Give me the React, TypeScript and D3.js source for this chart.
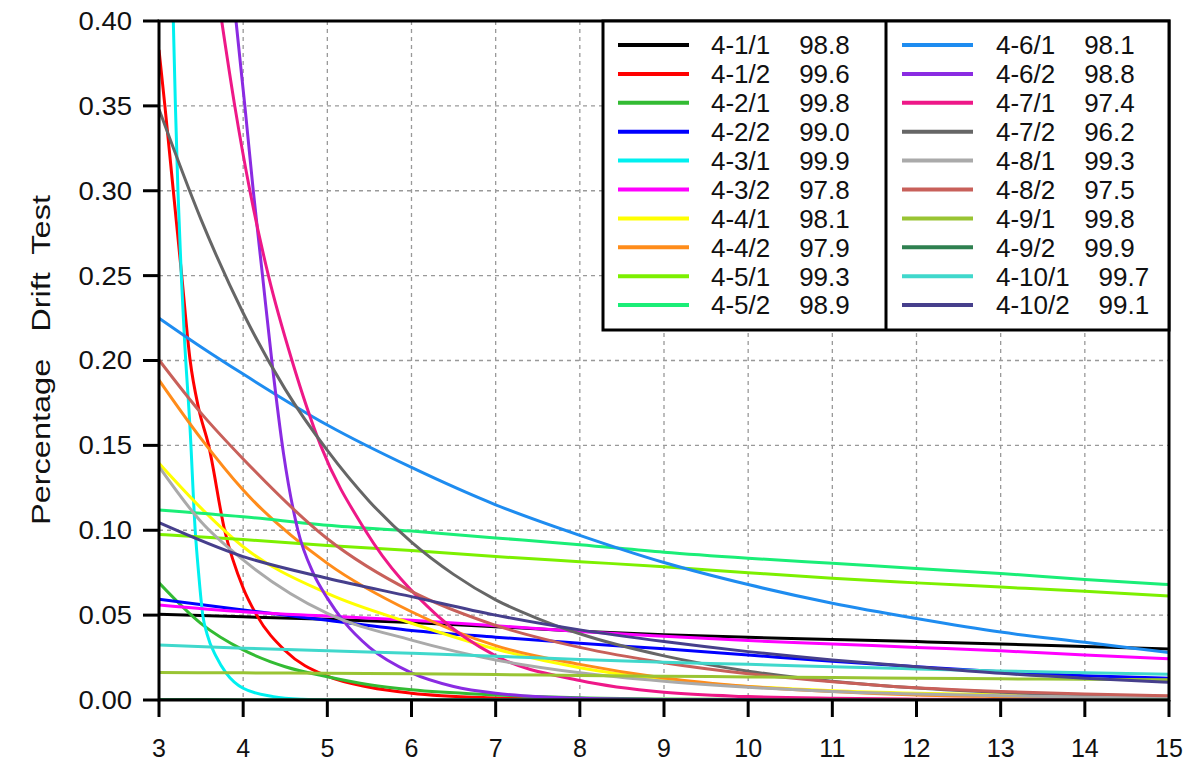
import React from 'react';
import * as d3 from 'd3';

const X_TICKS = [3, 4, 5, 6, 7, 8, 9, 10, 11, 12, 13, 14, 15];
const Y_TICKS = [0, 0.05, 0.1, 0.15, 0.2, 0.25, 0.3, 0.35, 0.4];

const LABELS = ['4-1/1', '4-1/2', '4-2/1', '4-2/2', '4-3/1', '4-3/2', '4-4/1', '4-4/2', '4-5/1', '4-5/2',
  '4-6/1', '4-6/2', '4-7/1', '4-7/2', '4-8/1', '4-8/2', '4-9/1', '4-9/2', '4-10/1', '4-10/2'];
const R2 = ['98.8', '99.6', '99.8', '99.0', '99.9', '97.8', '98.1', '97.9', '99.3', '98.9',
  '98.1', '98.8', '97.4', '96.2', '99.3', '97.5', '99.8', '99.9', '99.7', '99.1'];
const COLORS = ['#000000', '#ff0000', '#33bb33', '#0000ff', '#00f0f0', '#ff00ff', '#ffff00', '#ff8c1a', '#7cf000', '#1aee77',
  '#1e8cf0', '#8a2be2', '#ee1888', '#666666', '#aaaaaa', '#c8605a', '#99c433', '#2e8050', '#40d8cc', '#463f8c'];

const X_MAIN = [3, 4, 5, 6, 7, 8, 9, 10, 11, 12, 13, 14, 15];

const Y_4_1_1 = [0.0505, 0.049, 0.0475, 0.0457, 0.0432, 0.0405, 0.0385, 0.0369, 0.0357, 0.0344, 0.033, 0.0315, 0.030];

const X_4_1_2 = [3, 3.07, 3.17, 3.27, 3.37, 3.47, 3.59, 3.78, 4, 4.16, 4.5, 5, 5.5, 6, 7, 8, 9, 15];
const Y_4_1_2 = [0.383, 0.35, 0.30, 0.25, 0.20, 0.172, 0.15, 0.10, 0.066, 0.05, 0.029, 0.014, 0.0075, 0.004, 0.0012, 0.0003, 0.0001, 0];

const X_4_2_1 = [3, 3.5, 4, 4.5, 5, 5.5, 6, 7, 8, 9, 10, 12, 15];
const Y_4_2_1 = [0.069, 0.045, 0.0295, 0.0196, 0.0137, 0.009, 0.006, 0.003, 0.0013, 0.0006, 0.0003, 0.0001, 0];

const Y_4_2_2 = [0.0593, 0.053, 0.047, 0.041, 0.037, 0.0334, 0.0302, 0.0265, 0.0228, 0.0196, 0.0167, 0.0143, 0.0128];

const X_4_3_1 = [3, 3.1, 3.17, 3.195, 3.225, 3.265, 3.3, 3.37, 3.43, 3.47, 3.52, 3.57, 3.68, 3.8, 4, 4.36, 4.7, 5, 15];
const Y_4_3_1 = [0.62, 0.5, 0.40, 0.35, 0.30, 0.25, 0.215, 0.159, 0.10, 0.075, 0.05, 0.039, 0.0255, 0.0157, 0.0069, 0.002, 0.0004, 0, 0];

const Y_4_3_2 = [0.056, 0.052, 0.0495, 0.047, 0.0438, 0.0403, 0.0375, 0.035, 0.033, 0.031, 0.029, 0.0265, 0.0243];

const X_4_4 = [3, 3.5, 4, 5, 6, 7, 8, 9, 10, 11, 12, 13, 14, 15];
const Y_4_4_1 = [0.1394, 0.113, 0.0903, 0.0628, 0.0452, 0.030, 0.019, 0.012, 0.008, 0.0055, 0.004, 0.003, 0.0022, 0.0016];
const Y_4_4_2 = [0.1885, 0.154, 0.1237, 0.0805, 0.052, 0.032, 0.021, 0.013, 0.008, 0.005, 0.003, 0.002, 0.0013, 0.0009];

const Y_4_5_1 = [0.0975, 0.0945, 0.091, 0.088, 0.0845, 0.0815, 0.0785, 0.075, 0.0717, 0.069, 0.0665, 0.064, 0.0613];
const Y_4_5_2 = [0.112, 0.108, 0.103, 0.0995, 0.0955, 0.0915, 0.087, 0.0835, 0.0805, 0.0775, 0.0745, 0.071, 0.068];

const X_4_6_1 = [3, 3.5, 4, 5, 6, 7, 8, 9, 10, 11, 12, 13, 14, 15];
const Y_4_6_1 = [0.225, 0.208, 0.192, 0.162, 0.137, 0.115, 0.097, 0.081, 0.068, 0.057, 0.048, 0.040, 0.034, 0.028];

const X_4_6_2 = [3.7, 3.915, 4.02, 4.12, 4.23, 4.34, 4.48, 4.65, 4.83, 5, 5.2, 5.5, 6, 6.5, 7, 8, 9, 15];
const Y_4_6_2 = [0.52, 0.40, 0.35, 0.30, 0.25, 0.20, 0.145, 0.10, 0.075, 0.06, 0.046, 0.031, 0.016, 0.008, 0.004, 0.001, 0.0003, 0];

const X_4_7_1 = [3.6, 3.745, 3.9, 4.08, 4.3, 4.58, 4.92, 5.45, 6.3, 7, 8, 9, 10, 11, 12, 15];
const Y_4_7_1 = [0.45, 0.40, 0.35, 0.30, 0.25, 0.20, 0.15, 0.10, 0.05, 0.026, 0.0115, 0.0045, 0.002, 0.001, 0.0005, 0.0001];

const X_4_7_2 = [3, 3.5, 4, 4.5, 5, 5.5, 6, 6.5, 7, 7.5, 8, 9, 10, 11, 12, 13, 14, 15];
const Y_4_7_2 = [0.348, 0.283, 0.228, 0.183, 0.147, 0.117, 0.093, 0.074, 0.059, 0.048, 0.039, 0.026, 0.017, 0.011, 0.007, 0.0045, 0.003, 0.002];

const X_4_8 = [3, 3.5, 4, 5, 6, 7, 8, 9, 10, 11, 12, 13, 14, 15];
const Y_4_8_1 = [0.1375, 0.105, 0.0825, 0.051, 0.0353, 0.0236, 0.016, 0.011, 0.0075, 0.005, 0.0035, 0.0025, 0.0018, 0.0013];
const Y_4_8_2 = [0.2003, 0.169, 0.142, 0.095, 0.064, 0.044, 0.031, 0.022, 0.0155, 0.0108, 0.0072, 0.005, 0.0035, 0.0025];

const Y_4_9_1 = [0.0162, 0.016, 0.0157, 0.0154, 0.015, 0.0145, 0.014, 0.0136, 0.0132, 0.0128, 0.0125, 0.0122, 0.012];
const X_4_9_2 = [3, 4, 5, 6, 8, 15];
const Y_4_9_2 = [0.0003, 0.0002, 0.0001, 0.0001, 0, 0];

const Y_4_10_1 = [0.0324, 0.0305, 0.029, 0.0275, 0.0258, 0.0238, 0.0222, 0.021, 0.0196, 0.0183, 0.0171, 0.0161, 0.0151];
const Y_4_10_2 = [0.1045, 0.0845, 0.0717, 0.0609, 0.050, 0.0413, 0.0344, 0.0285, 0.0236, 0.0196, 0.0157, 0.0128, 0.0105];

const SERIES_XS = [X_MAIN, X_4_1_2, X_4_2_1, X_MAIN, X_4_3_1, X_MAIN, X_4_4, X_4_4, X_MAIN, X_MAIN,
  X_4_6_1, X_4_6_2, X_4_7_1, X_4_7_2, X_4_8, X_4_8, X_MAIN, X_4_9_2, X_MAIN, X_MAIN];
const SERIES_YS = [Y_4_1_1, Y_4_1_2, Y_4_2_1, Y_4_2_2, Y_4_3_1, Y_4_3_2, Y_4_4_1, Y_4_4_2, Y_4_5_1, Y_4_5_2,
  Y_4_6_1, Y_4_6_2, Y_4_7_1, Y_4_7_2, Y_4_8_1, Y_4_8_2, Y_4_9_1, Y_4_9_2, Y_4_10_1, Y_4_10_2];

const W = 1194;
const H = 765;
const L = 159, R = 1169, T = 21, B = 700;

export default function App() {
  const x = d3.scaleLinear().domain([3, 15]).range([L, R]);
  const y = d3.scaleLinear().domain([0, 0.4]).range([B, T]);
  const line = d3.line<[number, number]>().x(d => x(d[0])).y(d => y(d[1])).curve(d3.curveMonotoneX);
  const fmt = d3.format('.2f');

  const legX0 = 603, legX1 = 1169, legDiv = 886, legY0 = 21, legY1 = 330;
  const rowH = 28.9;
  const font = 'Arial, "Liberation Sans", Helvetica, sans-serif';

  return (
    <svg width={W} height={H} style={{ position: 'absolute', left: 0, top: 0, background: '#fff' }} fontFamily={font}>
      <defs>
        <clipPath id="plotclip">
          <rect x={L} y={T} width={R - L} height={B - T} />
        </clipPath>
      </defs>
      {X_TICKS.slice(1, -1).map(t => (
        <line key={'gx' + t} x1={x(t)} x2={x(t)} y1={T} y2={B} stroke="#999" strokeWidth={1.3} strokeDasharray="4,4" />
      ))}
      {Y_TICKS.slice(1, -1).map(t => (
        <line key={'gy' + t} x1={L} x2={R} y1={y(t)} y2={y(t)} stroke="#999" strokeWidth={1.3} strokeDasharray="4,4" />
      ))}
      <g clipPath="url(#plotclip)">
        {SERIES_YS.map((ys, i) => (
          <path key={'s' + i} d={line(ys.map((v, j) => [SERIES_XS[i][j], v] as [number, number])) || ''}
            fill="none" stroke={COLORS[i]} strokeWidth={3} />
        ))}
      </g>
      <rect x={L} y={T} width={R - L} height={B - T} fill="none" stroke="#000" strokeWidth={3} />
      {X_TICKS.map(t => (
        <g key={'xt' + t}>
          <line x1={x(t)} x2={x(t)} y1={B} y2={B + 17} stroke="#000" strokeWidth={3} />
          <text x={x(t)} y={757} textAnchor="middle" fontSize={25} fill="#111">{t}</text>
        </g>
      ))}
      {Y_TICKS.map(t => (
        <g key={'yt' + t}>
          <line x1={L - 16} x2={L} y1={y(t)} y2={y(t)} stroke="#000" strokeWidth={3} />
          <text x={132} y={y(t) + 9} textAnchor="end" fontSize={25} fill="#111"
            transform={`translate(132,0) scale(1.1,1) translate(-132,0)`}>{fmt(t)}</text>
        </g>
      ))}
      <text transform={`translate(50,360) rotate(-90) scale(1.3,1)`} textAnchor="middle" fontSize={25} fill="#111"
        style={{ whiteSpace: 'pre' }}>Percentage   Drift  Test</text>
      <rect x={legX0} y={legY0} width={legX1 - legX0} height={legY1 - legY0} fill="#fff" stroke="#000" strokeWidth={3} />
      <line x1={legDiv} x2={legDiv} y1={legY0} y2={legY1} stroke="#000" strokeWidth={3} />
      {LABELS.map((lab, i) => {
        const col = i < 10 ? 0 : 1;
        const row = i % 10;
        const cy = 45 + row * rowH;
        const lx = col === 0 ? 618 : 902;
        const tx = col === 0 ? 711 : 996;
        return (
          <g key={'lg' + i}>
            <line x1={lx} x2={lx + 71} y1={cy} y2={cy} stroke={COLORS[i]} strokeWidth={4} />
            <text x={tx} y={cy + 9.3} fontSize={26} fill="#111" style={{ whiteSpace: 'pre' }}>{lab + '    ' + R2[i]}</text>
          </g>
        );
      })}
    </svg>
  );
}
